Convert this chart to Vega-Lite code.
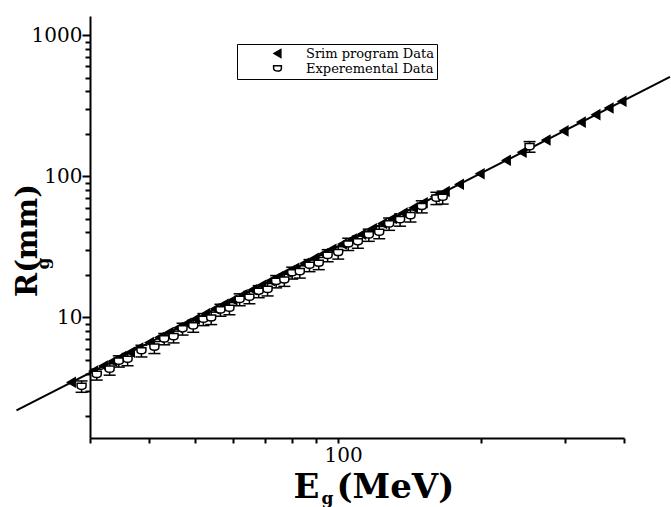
{
  "$schema": "https://vega.github.io/schema/vega-lite/v6.json",
  "width": 534,
  "height": 422,
  "autosize": {"type": "none"},
  "padding": {"left": 90, "top": 16, "right": 47, "bottom": 69},
  "background": "white",
  "config": {"view": {"stroke": null}, "font": "DejaVu Serif", "legend": {"labelFont": "DejaVu Serif"}},
  "datasets": {
    "fit": [{"E": 21, "R": 2.2}, {"E": 500, "R": 506}],
    "pts": [
      {"E": 27.4, "R": 3.47, "series": "Srim program Data"},
      {"E": 30.5, "R": 4.17, "series": "Srim program Data"},
      {"E": 32, "R": 4.53, "series": "Srim program Data"},
      {"E": 33.5, "R": 4.9, "series": "Srim program Data"},
      {"E": 35, "R": 5.28, "series": "Srim program Data"},
      {"E": 36.5, "R": 5.67, "series": "Srim program Data"},
      {"E": 38, "R": 6.08, "series": "Srim program Data"},
      {"E": 40, "R": 6.64, "series": "Srim program Data"},
      {"E": 42, "R": 7.22, "series": "Srim program Data"},
      {"E": 44, "R": 7.82, "series": "Srim program Data"},
      {"E": 46, "R": 8.44, "series": "Srim program Data"},
      {"E": 48, "R": 9.08, "series": "Srim program Data"},
      {"E": 50, "R": 9.74, "series": "Srim program Data"},
      {"E": 52.5, "R": 10.6, "series": "Srim program Data"},
      {"E": 55, "R": 11.5, "series": "Srim program Data"},
      {"E": 57.5, "R": 12.4, "series": "Srim program Data"},
      {"E": 60, "R": 13.3, "series": "Srim program Data"},
      {"E": 63, "R": 14.5, "series": "Srim program Data"},
      {"E": 66, "R": 15.7, "series": "Srim program Data"},
      {"E": 69, "R": 16.9, "series": "Srim program Data"},
      {"E": 72, "R": 18.2, "series": "Srim program Data"},
      {"E": 75, "R": 19.5, "series": "Srim program Data"},
      {"E": 78, "R": 20.9, "series": "Srim program Data"},
      {"E": 81, "R": 22.3, "series": "Srim program Data"},
      {"E": 85, "R": 24.2, "series": "Srim program Data"},
      {"E": 89, "R": 26.2, "series": "Srim program Data"},
      {"E": 93, "R": 28.2, "series": "Srim program Data"},
      {"E": 97, "R": 30.4, "series": "Srim program Data"},
      {"E": 102, "R": 33.1, "series": "Srim program Data"},
      {"E": 107, "R": 35.9, "series": "Srim program Data"},
      {"E": 112, "R": 38.8, "series": "Srim program Data"},
      {"E": 118, "R": 42.5, "series": "Srim program Data"},
      {"E": 124, "R": 46.3, "series": "Srim program Data"},
      {"E": 130, "R": 50.2, "series": "Srim program Data"},
      {"E": 137, "R": 54.9, "series": "Srim program Data"},
      {"E": 144, "R": 59.8, "series": "Srim program Data"},
      {"E": 151, "R": 64.9, "series": "Srim program Data"},
      {"E": 160, "R": 71.6, "series": "Srim program Data"},
      {"E": 168, "R": 77.9, "series": "Srim program Data"},
      {"E": 180, "R": 87.7, "series": "Srim program Data"},
      {"E": 199, "R": 104.2, "series": "Srim program Data"},
      {"E": 226, "R": 129.7, "series": "Srim program Data"},
      {"E": 244, "R": 147.9, "series": "Srim program Data"},
      {"E": 274, "R": 180.4, "series": "Srim program Data"},
      {"E": 299, "R": 209.6, "series": "Srim program Data"},
      {"E": 325, "R": 241.8, "series": "Srim program Data"},
      {"E": 349, "R": 273.2, "series": "Srim program Data"},
      {"E": 372, "R": 304.8, "series": "Srim program Data"},
      {"E": 396, "R": 339.3, "series": "Srim program Data"},
      {"E": 28.8, "R": 3.25, "lo": 2.95, "hi": 3.55, "series": "Experemental Data"},
      {"E": 31, "R": 3.95, "lo": 3.6, "hi": 4.3, "series": "Experemental Data"},
      {"E": 33, "R": 4.3, "lo": 3.9, "hi": 4.7, "series": "Experemental Data"},
      {"E": 34.5, "R": 4.9, "lo": 4.45, "hi": 5.35, "series": "Experemental Data"},
      {"E": 36, "R": 5.05, "lo": 4.55, "hi": 5.55, "series": "Experemental Data"},
      {"E": 38.5, "R": 5.8, "lo": 5.25, "hi": 6.35, "series": "Experemental Data"},
      {"E": 41, "R": 6.15, "lo": 5.55, "hi": 6.75, "series": "Experemental Data"},
      {"E": 43, "R": 7.05, "lo": 6.4, "hi": 7.7, "series": "Experemental Data"},
      {"E": 45, "R": 7.3, "lo": 6.6, "hi": 8.0, "series": "Experemental Data"},
      {"E": 47, "R": 8.3, "lo": 7.5, "hi": 9.1, "series": "Experemental Data"},
      {"E": 49.5, "R": 8.7, "lo": 7.85, "hi": 9.55, "series": "Experemental Data"},
      {"E": 52, "R": 9.7, "lo": 8.75, "hi": 10.65, "series": "Experemental Data"},
      {"E": 54, "R": 9.9, "lo": 8.9, "hi": 10.9, "series": "Experemental Data"},
      {"E": 56.5, "R": 11.3, "lo": 10.2, "hi": 12.4, "series": "Experemental Data"},
      {"E": 59, "R": 11.6, "lo": 10.45, "hi": 12.75, "series": "Experemental Data"},
      {"E": 62, "R": 13.4, "lo": 12.1, "hi": 14.7, "series": "Experemental Data"},
      {"E": 65, "R": 13.9, "lo": 12.5, "hi": 15.3, "series": "Experemental Data"},
      {"E": 68, "R": 15.3, "lo": 13.8, "hi": 16.8, "series": "Experemental Data"},
      {"E": 71, "R": 15.8, "lo": 14.2, "hi": 17.4, "series": "Experemental Data"},
      {"E": 74, "R": 18.0, "lo": 16.2, "hi": 19.8, "series": "Experemental Data"},
      {"E": 77, "R": 18.4, "lo": 16.6, "hi": 20.2, "series": "Experemental Data"},
      {"E": 80, "R": 20.7, "lo": 18.7, "hi": 22.7, "series": "Experemental Data"},
      {"E": 83, "R": 21.1, "lo": 19.0, "hi": 23.2, "series": "Experemental Data"},
      {"E": 87, "R": 23.4, "lo": 21.1, "hi": 25.7, "series": "Experemental Data"},
      {"E": 91, "R": 24.2, "lo": 21.8, "hi": 26.6, "series": "Experemental Data"},
      {"E": 95, "R": 27.5, "lo": 24.8, "hi": 30.2, "series": "Experemental Data"},
      {"E": 100, "R": 28.8, "lo": 25.9, "hi": 31.7, "series": "Experemental Data"},
      {"E": 105, "R": 33.1, "lo": 29.8, "hi": 36.4, "series": "Experemental Data"},
      {"E": 110, "R": 34.3, "lo": 30.9, "hi": 37.7, "series": "Experemental Data"},
      {"E": 116, "R": 38.4, "lo": 34.6, "hi": 42.2, "series": "Experemental Data"},
      {"E": 122, "R": 40.1, "lo": 36.1, "hi": 44.1, "series": "Experemental Data"},
      {"E": 128, "R": 46.0, "lo": 41.4, "hi": 50.6, "series": "Experemental Data"},
      {"E": 135, "R": 49.2, "lo": 44.3, "hi": 54.1, "series": "Experemental Data"},
      {"E": 142, "R": 52.6, "lo": 47.4, "hi": 57.8, "series": "Experemental Data"},
      {"E": 150, "R": 61, "lo": 55, "hi": 67, "series": "Experemental Data"},
      {"E": 161, "R": 70, "lo": 63, "hi": 77, "series": "Experemental Data"},
      {"E": 166, "R": 71, "lo": 63.5, "hi": 78.5, "series": "Experemental Data"},
      {"E": 253, "R": 162, "lo": 148, "hi": 176, "series": "Experemental Data"}
    ]
  },
  "layer": [
    {
      "data": {"name": "fit"},
      "mark": {"type": "line", "color": "black", "strokeWidth": 2},
      "encoding": {
        "x": {
          "field": "E", "type": "quantitative",
          "scale": {"type": "log", "domain": [30, 400], "nice": false},
          "axis": {
            "orient": "bottom",
            "values": [30, 40, 50, 60, 70, 80, 90, 100, 200, 300, 400],
            "labelExpr": "datum.value == 100 ? '100' : ''",
            "labelFont": "DejaVu Serif", "labelFontSize": 20, "labelColor": "black",
            "labelOffset": 5, "labelPadding": 2, "labelFlush": false, "labelOverlap": false,
            "tickSize": 5, "tickWidth": 2, "tickColor": "black",
            "domainColor": "black", "domainWidth": 2, "grid": false,
            "title": "E\u2002(MeV)", "titleFont": "DejaVu Serif", "titleFontWeight": "bold",
            "titleFontSize": 34, "titleColor": "black", "titleAlign": "left",
            "titleBaseline": "alphabetic", "titleX": 203, "titleY": 59
          }
        },
        "y": {
          "field": "R", "type": "quantitative",
          "scale": {"type": "log", "domain": [1.4, 1365], "nice": false},
          "axis": {
            "orient": "left",
            "values": [2, 3, 4, 5, 6, 7, 8, 9, 10, 20, 30, 40, 50, 60, 70, 80, 90, 100, 200, 300, 400, 500, 600, 700, 800, 900, 1000],
            "labelExpr": "datum.value == 1000 ? '1000' : datum.value == 100 ? '100' : datum.value == 10 ? '10' : ''",
            "labelFont": "DejaVu Serif", "labelFontSize": 20, "labelColor": "black",
            "labelPadding": 0, "labelFlush": false, "labelOverlap": false,
            "tickSize": {"condition": {"test": "datum.value == 10 || datum.value == 100 || datum.value == 1000", "value": 8}, "value": 5},
            "tickWidth": 2, "tickColor": "black",
            "domainColor": "black", "domainWidth": 2, "grid": false,
            "title": "R(mm)", "titleFont": "DejaVu Serif", "titleFontWeight": "bold",
            "titleFontSize": 29, "titleColor": "black", "titleAngle": 270, "titleAlign": "center",
            "titleBaseline": "alphabetic", "titleX": -54, "titleY": 224
          }
        }
      }
    },
    {
      "data": {"name": "pts"},
      "transform": [{"filter": "datum.series == 'Experemental Data'"}],
      "mark": {"type": "rule", "color": "black", "strokeWidth": 1.5},
      "encoding": {
        "x": {
          "field": "E", "type": "quantitative",
          "scale": {"type": "log", "domain": [30, 400], "nice": false},
          "axis": {
            "orient": "bottom", "domain": false, "ticks": false, "labels": false, "grid": false,
            "title": "g", "titleFont": "DejaVu Serif", "titleFontWeight": "bold", "titleFontSize": 17,
            "titleColor": "black", "titleAlign": "left", "titleBaseline": "alphabetic",
            "titleX": 231, "titleY": 65
          }
        },
        "y": {
          "field": "lo", "type": "quantitative",
          "scale": {"type": "log", "domain": [1.4, 1365], "nice": false},
          "axis": {
            "orient": "left", "domain": false, "ticks": false, "labels": false, "grid": false,
            "title": "g", "titleFont": "DejaVu Serif", "titleFontWeight": "bold", "titleFontSize": 17,
            "titleColor": "black", "titleAngle": 270, "titleAlign": "center", "titleBaseline": "alphabetic",
            "titleX": -42, "titleY": 247
          }
        },
        "y2": {"field": "hi"}
      }
    },
    {
      "data": {"name": "pts"},
      "transform": [{"filter": "datum.series == 'Experemental Data'"}],
      "mark": {"type": "tick", "color": "black", "orient": "horizontal", "size": 12, "thickness": 1.5, "opacity": 1},
      "encoding": {
        "x": {"field": "E", "type": "quantitative", "scale": {"type": "log", "domain": [30, 400], "nice": false}, "axis": null},
        "y": {"field": "lo", "type": "quantitative", "scale": {"type": "log", "domain": [1.4, 1365], "nice": false}, "axis": null}
      }
    },
    {
      "data": {"name": "pts"},
      "transform": [{"filter": "datum.series == 'Experemental Data'"}],
      "mark": {"type": "tick", "color": "black", "orient": "horizontal", "size": 12, "thickness": 1.5, "opacity": 1},
      "encoding": {
        "x": {"field": "E", "type": "quantitative", "scale": {"type": "log", "domain": [30, 400], "nice": false}, "axis": null},
        "y": {"field": "hi", "type": "quantitative", "scale": {"type": "log", "domain": [1.4, 1365], "nice": false}, "axis": null}
      }
    },
    {
      "data": {"name": "pts"},
      "mark": {"type": "point", "filled": true, "size": 80, "stroke": "black", "strokeWidth": 1.5, "opacity": 1},
      "encoding": {
        "x": {"field": "E", "type": "quantitative", "scale": {"type": "log", "domain": [30, 400], "nice": false}, "axis": null},
        "y": {"field": "R", "type": "quantitative", "scale": {"type": "log", "domain": [1.4, 1365], "nice": false}, "axis": null},
        "shape": {
          "field": "series", "type": "nominal",
          "scale": {"domain": ["Srim program Data", "Experemental Data"], "range": ["triangle-left", "M-1,-0.7L1,-0.7L1,0C1,0.9,-1,0.9,-1,0Z"]},
          "legend": {
            "orient": "none", "legendX": 147, "legendY": 28, "title": null,
            "strokeColor": "black", "padding": 3, "rowPadding": 1,
            "symbolOffset": 31, "labelOffset": 22, "symbolSize": 60,
            "labelFont": "DejaVu Serif", "labelFontSize": 13, "labelColor": "black", "labelLimit": 300,
            "encode": {"symbols": {"update": {"stroke": {"value": "black"}, "strokeWidth": {"value": 1.8}}}, "legend": {"update": {"strokeWidth": {"value": 2}}}}
          }
        },
        "fill": {
          "field": "series", "type": "nominal",
          "scale": {"domain": ["Srim program Data", "Experemental Data"], "range": ["black", "white"]},
          "legend": {
            "orient": "none", "legendX": 147, "legendY": 28, "title": null,
            "strokeColor": "black", "padding": 3, "rowPadding": 1,
            "symbolOffset": 31, "labelOffset": 22, "symbolSize": 60,
            "labelFont": "DejaVu Serif", "labelFontSize": 13, "labelColor": "black", "labelLimit": 300,
            "encode": {"symbols": {"update": {"stroke": {"value": "black"}, "strokeWidth": {"value": 1.8}}}, "legend": {"update": {"strokeWidth": {"value": 2}}}}
          }
        }
      }
    }
  ],
  "resolve": {"axis": {"x": "independent", "y": "independent"}}
}
